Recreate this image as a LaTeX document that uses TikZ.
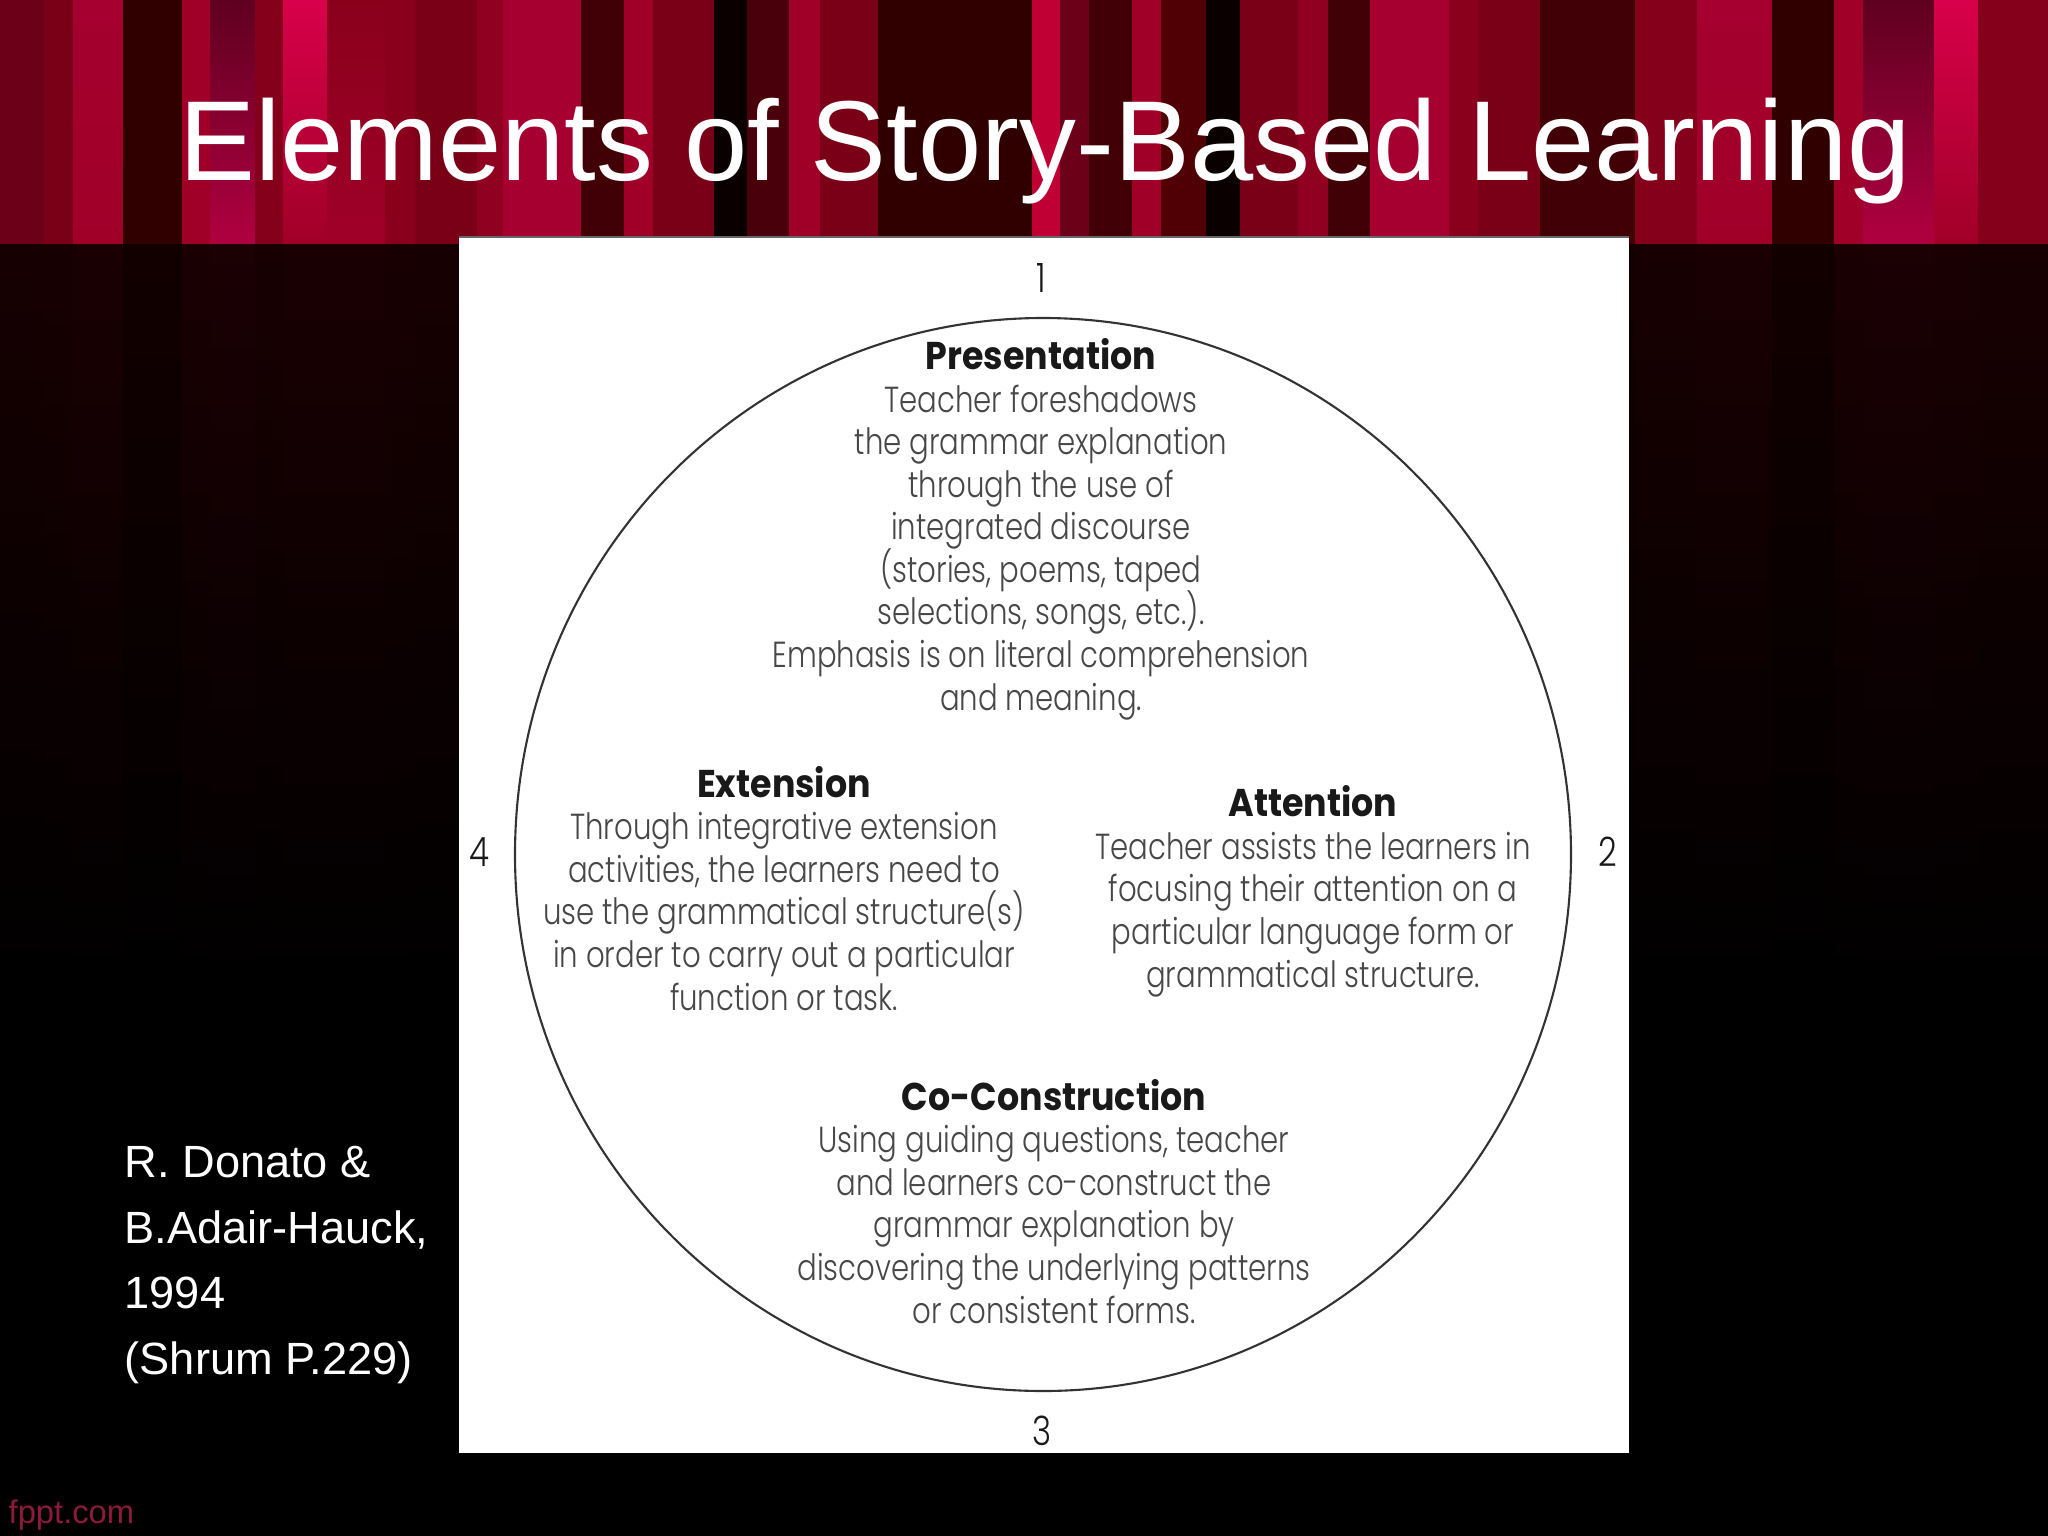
\documentclass[tikz,border=0pt]{standalone}
\usepackage{fontspec}
\setmainfont{Liberation Sans}
\newfontfamily\bodyfont[FakeStretch=0.805]{Poppins Light}
\newfontfamily\headfont[FakeStretch=0.9]{Poppins Bold}
\setlength{\lineskiplimit}{-20pt}

\definecolor{dim}{HTML}{6D0019}
\definecolor{wine}{HTML}{7A0018}
\definecolor{crimson}{HTML}{A5002F}
\definecolor{soot}{HTML}{300000}
\definecolor{scarlet}{HTML}{A00028}
\definecolor{plum}{HTML}{600020}
\definecolor{rose}{HTML}{B00040}
\definecolor{claret}{HTML}{85001A}
\definecolor{hot}{HTML}{D8004A}
\definecolor{maroon}{HTML}{8A001C}
\definecolor{blood}{HTML}{900020}
\definecolor{oxblood}{HTML}{400005}
\definecolor{tar}{HTML}{0A0000}
\definecolor{dusk}{HTML}{4A000A}
\definecolor{ember}{HTML}{C00035}
\definecolor{char}{HTML}{500005}
\definecolor{ink}{HTML}{100000}
\definecolor{brand}{HTML}{8C1A3C}

\tikzset{
  block/.style={align=center, inner sep=0pt, anchor=base, text=black!72,
    font=\fontsize{10.3}{12.1}\selectfont\bodyfont},
  numeral/.style={inner sep=0pt, anchor=base, text=black!90,
    font=\fontsize{11.5}{13}\selectfont\bodyfont}
}
\newcommand{\blockhead}[1]{{\fontsize{11}{12.1}\selectfont\headfont\color{black!90}#1}}

\begin{document}
\begin{tikzpicture}[x=0.01cm, y=-0.01cm]
\useasboundingbox (0,0) rectangle (2048,1536);
\fill[black] (0,0) rectangle (2048,1536);
\foreach \xa/\xb/\ctop/\cbot in {
  0/44/dim/dim, 44/73/wine/wine, 73/123/crimson/scarlet, 123/182/soot/soot,
  182/210/scarlet/scarlet, 210/255/plum/rose, 255/283/claret/claret,
  283/327/hot/scarlet, 327/385/maroon/scarlet, 385/415/maroon/maroon,
  415/477/wine/wine, 477/503/blood/blood, 503/581/crimson/crimson,
  581/624/oxblood/oxblood, 624/653/scarlet/scarlet, 653/714/wine/wine,
  714/747/tar/tar, 747/789/dusk/dusk, 789/820/scarlet/scarlet,
  820/878/wine/wine, 878/1032/soot/soot, 1032/1060/ember/ember,
  1060/1089/dim/dim, 1089/1132/oxblood/oxblood, 1132/1161/scarlet/scarlet,
  1161/1206/char/char, 1206/1240/tar/tar, 1240/1298/wine/wine,
  1298/1328/blood/blood, 1328/1370/oxblood/oxblood, 1370/1449/crimson/crimson,
  1449/1478/maroon/maroon, 1478/1540/wine/wine, 1540/1635/oxblood/oxblood,
  1635/1697/claret/claret, 1697/1772/crimson/scarlet, 1772/1834/soot/soot,
  1834/1863/scarlet/scarlet, 1863/1934/plum/rose, 1934/1978/hot/scarlet,
  1978/2048/claret/claret} {
  \fill[top color=\ctop, bottom color=\cbot] (\xa,0) rectangle (\xb,244);
  \fill[top color=\cbot!7!ink, bottom color=black] (\xa,244) rectangle (\xb,1000);
}
\node[text=white, inner sep=0pt, anchor=base, font=\fontsize{32.33}{36}\selectfont] (title) at (1045,180) {Elements of Story-Based Learning};
\node[text=white, inner sep=0pt, anchor=base west, align=left, font=\fontsize{12.85}{18.6}\selectfont] (source) at (124,1374) {R. Donato \&\\B.Adair-Hauck,\\1994\\(Shrum P.229)};
\node[text=brand, inner sep=0pt, anchor=base west, font=\fontsize{9.3}{11}\selectfont] (brand) at (8,1523) {fppt.com};

\fill[white] (459,237) rectangle (1629,1453);
\draw[black!60, line width=0.4pt] (459,237) -- (1629,237);
\draw[black!80, line width=0.6pt] (1043,854.5) ellipse [x radius=528, y radius=536.5];

\node[numeral] (one) at (1041,292) {1};
\node[numeral] (two) at (1608,866) {2};
\node[numeral] (three) at (1042,1445) {3};
\node[numeral] (four) at (479,866) {4};

\node[block] (presentation) at (1041,710) {\blockhead{Presentation}\\Teacher foreshadows\\the grammar explanation\\through the use of\\integrated discourse\\(stories, poems, taped\\selections, songs, etc.).\\Emphasis is on literal comprehension\\and meaning.};
\node[block] (extension) at (784,1010) {\blockhead{Extension}\\Through integrative extension\\activities, the learners need to\\use the grammatical structure(s)\\in order to carry out a particular\\function or task.};
\node[block] (attention) at (1313,987) {\blockhead{Attention}\\Teacher assists the learners in\\focusing their attention on a\\particular language form or\\grammatical structure.};
\node[block] (coconstruction) at (1054,1323) {\blockhead{Co-Construction}\\Using guiding questions, teacher\\and learners co-construct the\\grammar explanation by\\discovering the underlying patterns\\or consistent forms.};
\end{tikzpicture}
\end{document}
